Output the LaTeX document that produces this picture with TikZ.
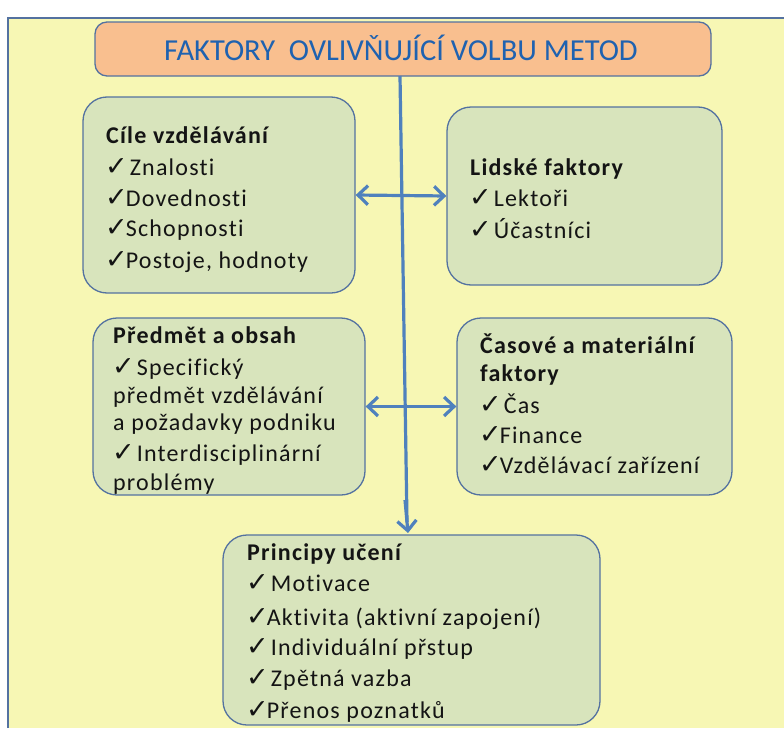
\documentclass[tikz,border=0pt]{standalone}
\usepackage{fontspec}
\setmainfont{Carlito}
\newfontfamily\bodyfont[LetterSpace=5,Ligatures=NoCommon]{Carlito}
\newfontfamily\symfont{DejaVu Sans}
\usetikzlibrary{arrows.meta}
\definecolor{bgyellow}{HTML}{F7F7B4}
\definecolor{boxfill}{HTML}{D8E4BC}
\definecolor{boxline}{HTML}{5472A0}
\definecolor{arrowblue}{HTML}{4F81BD}
\definecolor{titlefill}{HTML}{F9BF8F}
\definecolor{titletext}{HTML}{1F62B0}
\newcommand\ck{{\symfont\fontsize{27}{27}\selectfont\kern-1pt ✓\kern-2pt}}
\tikzset{
  box/.style={draw=boxline, line width=1.3pt, fill=boxfill, rounded corners=24pt, inner sep=0pt},
  titlebox/.style={draw=boxline, line width=1.3pt, fill=titlefill, rounded corners=12pt, inner sep=0pt},
  txt/.style={anchor=base west, inner sep=0pt, font=\bodyfont\fontsize{24}{28}\selectfont, text=black!92},
  hdr/.style={txt, font=\bodyfont\bfseries\fontsize{24}{28}\selectfont},
  link/.style={draw=arrowblue, line width=3.2pt, arrows={Straight Barb[length=10pt,width=19pt,line width=3.2pt]-Straight Barb[length=10pt,width=19pt,line width=3.2pt]}},
  downlink/.style={draw=arrowblue, line width=3.2pt, -{Straight Barb[length=10pt,width=19pt,line width=3.2pt]}},
}
\begin{document}
\begin{tikzpicture}[x=1pt,y=-1pt]
\useasboundingbox (0,0) rectangle (784,728);
\fill[white] (0,0) rectangle (784,728);
\fill[bgyellow] (8,18) rectangle (784,728);
\draw[boxline, line width=1.3pt] (8,728) -- (8,18) -- (784,18);

% title
\node[titlebox, minimum width=616pt, minimum height=54pt] (title) at (403,49) {};
\node[anchor=center, inner sep=0pt, text=titletext, font=\fontsize{30.5}{34}\selectfont] (titletxt) at (401,48) {FAKTORY\ \ OVLIVŇUJÍCÍ VOLBU METOD};

% boxes
\node[box, minimum width=272pt, minimum height=196pt] (cile) at (219,195) {};
\node[box, minimum width=275pt, minimum height=178pt] (lidske) at (584.5,196) {};
\node[box, minimum width=272pt, minimum height=177pt] (predmet) at (229,406.5) {};
\node[box, minimum width=275pt, minimum height=177pt] (casove) at (594.5,406.5) {};
\node[box, minimum width=377pt, minimum height=190pt] (princ) at (411.5,630) {};

% connectors
\draw[arrowblue, line width=3.2pt] (400,76) -- (407,522);
\coordinate (vend) at (408,533);
\draw[downlink] (405,500) -- (vend);
\draw[link] (cile.east) -- (lidske.west);
\draw[link] (predmet.east) -- (casove.west);

% box 1 text
\node[hdr] (c0) at (106,143) {Cíle vzdělávání};
\node[txt] (c1) at (106,175) {\ck\,Znalosti};
\node[txt] (c2) at (106,206) {\ck Dovednosti};
\node[txt] (c3) at (106,236) {\ck Schopnosti};
\node[txt] (c4) at (106,268) {\ck Postoje, hodnoty};

% box 2 text
\node[hdr] (l0) at (470,175) {Lidské faktory};
\node[txt] (l1) at (470,206) {\ck\,Lektoři};
\node[txt] (l2) at (470,238) {\ck\,Účastníci};

% box 3 text
\node[hdr] (p0) at (113,343) {Předmět a obsah};
\node[txt] (p1) at (113,375) {\ck\,Specifický};
\node[txt] (p2) at (113,403) {předmět vzdělávání};
\node[txt] (p3) at (113,430) {a požadavky podniku};
\node[txt] (p4) at (113,461) {\ck\,Interdisciplinární};
\node[txt] (p5) at (113,490) {problémy};

% box 4 text
\node[hdr] (t0) at (480,353) {Časové a materiální};
\node[hdr] (t1) at (480,381) {faktory};
\node[txt] (t2) at (480,413) {\ck\,Čas};
\node[txt] (t3) at (480,443) {\ck Finance};
\node[txt] (t4) at (480,473) {\ck Vzdělávací zařízení};

% box 5 text
\node[hdr] (r0) at (247,560) {Principy učení};
\node[txt] (r1) at (247,591) {\ck\,Motivace};
\node[txt] (r2) at (247,625) {\ck Aktivita (aktivní zapojení)};
\node[txt] (r3) at (247,655) {\ck\,Individuální přstup};
\node[txt] (r4) at (247,686) {\ck\,Zpětná vazba};
\node[txt] (r5) at (247,718) {\ck Přenos poznatků};
\end{tikzpicture}
\end{document}
